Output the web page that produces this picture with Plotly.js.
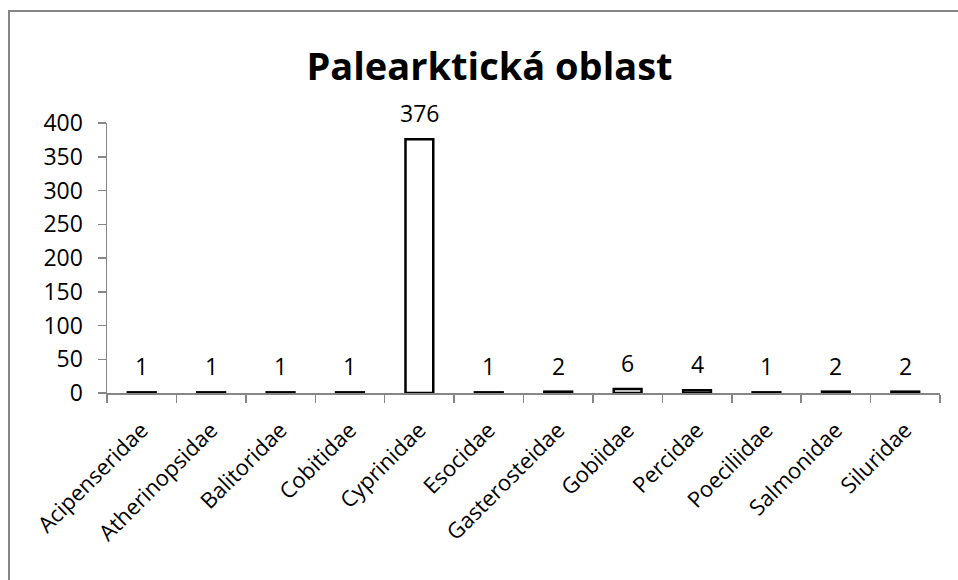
<!DOCTYPE html>
<html>
<head>
<meta charset="utf-8">
<script src="https://cdn.plot.ly/plotly-3.0.1.min.js"></script>
<style>
html,body{margin:0;padding:0;background:#fff;}
#chart{width:958px;height:580px;}
</style>
</head>
<body>
<div id="chart"></div>
<script>
const categories = ["Acipenseridae","Atherinopsidae","Balitoridae","Cobitidae","Cyprinidae","Esocidae","Gasterosteidae","Gobiidae","Percidae","Poeciliidae","Salmonidae","Siluridae"];
const values = [1,1,1,1,376,1,2,6,4,1,2,2];
const yTicks = [0,50,100,150,200,250,300,350,400];
const chartTitle = "Palearktická oblast";

const FONT = "Open Sans, Liberation Sans, sans-serif";
const AXIS_COLOR = "#868686";

const trace = {
  type: "bar",
  x: categories,
  y: values,
  marker: {color: "#ffffff", line: {color: "#000000", width: 2.5}},
  hoverinfo: "x+y"
};

const annotations = categories.map((c, i) => ({
  x: c, y: values[i], xref: "x", yref: "y",
  text: String(values[i]), showarrow: false,
  yanchor: "bottom", yshift: 8,
  font: {family: FONT, size: 23, color: "#000"}
}));

const layout = {
  width: 958, height: 580,
  margin: {l: 107, r: 18, t: 123, b: 187},
  paper_bgcolor: "#fff", plot_bgcolor: "#fff",
  showlegend: false,
  bargap: 0.6,
  title: {text: "<b>" + chartTitle + "</b>", x: 0.511, xanchor: "center", y: 0.885, yanchor: "middle", yref: "container",
          font: {family: FONT, size: 38, color: "#000"}},
  xaxis: {
    type: "category",
    showline: true, linecolor: AXIS_COLOR, linewidth: 1.5,
    ticks: "outside", tickson: "boundaries", ticklen: 8, tickcolor: AXIS_COLOR, tickwidth: 1.5,
    tickangle: -45, showgrid: false, zeroline: false, ticklabelstandoff: 14,
    tickfont: {family: FONT, size: 22, color: "#000"}
  },
  yaxis: {
    range: [0, 400], tickvals: yTicks, ticktext: yTicks.map(String),
    showline: true, linecolor: AXIS_COLOR, linewidth: 1.5,
    ticks: "outside", ticklen: 8, tickcolor: AXIS_COLOR, tickwidth: 1.5,
    showgrid: false, zeroline: false, ticklabelstandoff: 10,
    tickfont: {family: FONT, size: 23, color: "#000"}
  },
  annotations: annotations,
  shapes: [{
    type: "rect", xref: "paper", yref: "paper",
    x0: (9 - 107) / 833, x1: (970 - 107) / 833,
    y0: (393 - 600) / 270, y1: (393 - 11) / 270,
    line: {color: AXIS_COLOR, width: 2}, fillcolor: "rgba(0,0,0,0)", layer: "below"
  }]
};

Plotly.newPlot("chart", [trace], layout, {displayModeBar: false, staticPlot: true});
</script>
</body>
</html>
